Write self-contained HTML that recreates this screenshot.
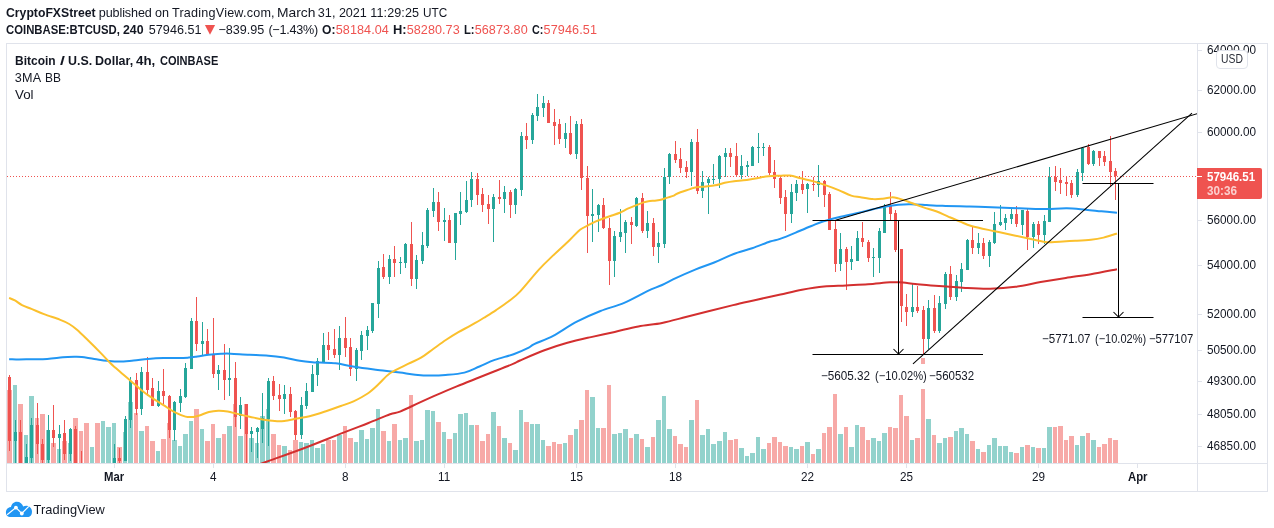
<!DOCTYPE html>
<html><head><meta charset="utf-8"><title>BTCUSD chart</title>
<style>
html,body{margin:0;padding:0;background:#fff;}
body{width:1274px;height:528px;position:relative;overflow:hidden;font-family:"Liberation Sans",sans-serif;color:#131722;}
.t{position:absolute;white-space:pre;line-height:1;font-family:"Liberation Sans",sans-serif;}
</style></head><body>
<svg width="1274" height="528" viewBox="0 0 1274 528" style="position:absolute;left:0;top:0">
<defs><clipPath id="pane"><rect x="7" y="44" width="1190" height="419"/></clipPath></defs>
<g shape-rendering="crispEdges" fill="#e0e3eb">
<rect x="6" y="43" width="1262" height="1"/>
<rect x="6" y="491" width="1262" height="1"/>
<rect x="6" y="43" width="1" height="449"/>
<rect x="1267" y="43" width="1" height="449"/>
<rect x="1197" y="44" width="1" height="447"/>
<rect x="7" y="463" width="1260" height="1"/>
</g>
<g clip-path="url(#pane)">
<g shape-rendering="crispEdges">
<rect x="7" y="390" width="5" height="73" fill="#f7a9a7"/>
<rect x="13" y="385" width="4" height="78" fill="#92d2cc"/>
<rect x="18" y="404" width="5" height="59" fill="#f7a9a7"/>
<rect x="24" y="435" width="4" height="28" fill="#92d2cc"/>
<rect x="29" y="396" width="5" height="67" fill="#92d2cc"/>
<rect x="35" y="418" width="4" height="45" fill="#f7a9a7"/>
<rect x="40" y="414" width="5" height="49" fill="#f7a9a7"/>
<rect x="46" y="430" width="4" height="33" fill="#92d2cc"/>
<rect x="51" y="443" width="5" height="20" fill="#f7a9a7"/>
<rect x="57" y="449" width="4" height="14" fill="#92d2cc"/>
<rect x="62" y="441" width="5" height="22" fill="#f7a9a7"/>
<rect x="68" y="443" width="4" height="20" fill="#92d2cc"/>
<rect x="73" y="418" width="5" height="45" fill="#f7a9a7"/>
<rect x="79" y="431" width="4" height="32" fill="#f7a9a7"/>
<rect x="84" y="423" width="5" height="40" fill="#f7a9a7"/>
<rect x="90" y="447" width="4" height="16" fill="#92d2cc"/>
<rect x="95" y="423" width="5" height="40" fill="#f7a9a7"/>
<rect x="101" y="421" width="4" height="42" fill="#92d2cc"/>
<rect x="106" y="427" width="5" height="36" fill="#92d2cc"/>
<rect x="112" y="423" width="4" height="40" fill="#92d2cc"/>
<rect x="117" y="447" width="5" height="16" fill="#f7a9a7"/>
<rect x="123" y="432" width="4" height="31" fill="#92d2cc"/>
<rect x="128" y="402" width="5" height="61" fill="#92d2cc"/>
<rect x="134" y="413" width="4" height="50" fill="#f7a9a7"/>
<rect x="139" y="431" width="5" height="32" fill="#92d2cc"/>
<rect x="145" y="426" width="4" height="37" fill="#f7a9a7"/>
<rect x="150" y="441" width="5" height="22" fill="#f7a9a7"/>
<rect x="156" y="451" width="4" height="12" fill="#92d2cc"/>
<rect x="161" y="439" width="5" height="24" fill="#f7a9a7"/>
<rect x="167" y="423" width="4" height="40" fill="#f7a9a7"/>
<rect x="172" y="440" width="5" height="23" fill="#92d2cc"/>
<rect x="178" y="446" width="4" height="17" fill="#92d2cc"/>
<rect x="183" y="434" width="5" height="29" fill="#92d2cc"/>
<rect x="189" y="421" width="4" height="42" fill="#92d2cc"/>
<rect x="194" y="409" width="5" height="54" fill="#f7a9a7"/>
<rect x="200" y="429" width="4" height="34" fill="#92d2cc"/>
<rect x="205" y="441" width="5" height="22" fill="#f7a9a7"/>
<rect x="211" y="424" width="4" height="39" fill="#f7a9a7"/>
<rect x="216" y="438" width="5" height="25" fill="#92d2cc"/>
<rect x="222" y="434" width="4" height="29" fill="#f7a9a7"/>
<rect x="227" y="426" width="5" height="37" fill="#92d2cc"/>
<rect x="233" y="404" width="4" height="59" fill="#f7a9a7"/>
<rect x="238" y="436" width="5" height="27" fill="#92d2cc"/>
<rect x="244" y="404" width="4" height="59" fill="#f7a9a7"/>
<rect x="249" y="438" width="5" height="25" fill="#92d2cc"/>
<rect x="255" y="443" width="4" height="20" fill="#92d2cc"/>
<rect x="260" y="416" width="5" height="47" fill="#92d2cc"/>
<rect x="266" y="409" width="4" height="54" fill="#92d2cc"/>
<rect x="271" y="434" width="5" height="29" fill="#f7a9a7"/>
<rect x="277" y="445" width="4" height="18" fill="#f7a9a7"/>
<rect x="282" y="446" width="5" height="17" fill="#92d2cc"/>
<rect x="288" y="450" width="4" height="13" fill="#f7a9a7"/>
<rect x="293" y="440" width="5" height="23" fill="#f7a9a7"/>
<rect x="299" y="442" width="4" height="21" fill="#92d2cc"/>
<rect x="304" y="443" width="5" height="20" fill="#92d2cc"/>
<rect x="310" y="440" width="4" height="23" fill="#92d2cc"/>
<rect x="315" y="448" width="5" height="15" fill="#92d2cc"/>
<rect x="321" y="444" width="4" height="19" fill="#92d2cc"/>
<rect x="326" y="440" width="5" height="23" fill="#f7a9a7"/>
<rect x="332" y="440" width="4" height="23" fill="#f7a9a7"/>
<rect x="337" y="435" width="5" height="28" fill="#92d2cc"/>
<rect x="343" y="426" width="4" height="37" fill="#f7a9a7"/>
<rect x="348" y="438" width="5" height="25" fill="#f7a9a7"/>
<rect x="354" y="442" width="4" height="21" fill="#92d2cc"/>
<rect x="359" y="430" width="5" height="33" fill="#92d2cc"/>
<rect x="365" y="439" width="4" height="24" fill="#92d2cc"/>
<rect x="370" y="428" width="5" height="35" fill="#92d2cc"/>
<rect x="376" y="409" width="4" height="54" fill="#92d2cc"/>
<rect x="381" y="431" width="5" height="32" fill="#f7a9a7"/>
<rect x="387" y="441" width="4" height="22" fill="#92d2cc"/>
<rect x="392" y="424" width="5" height="39" fill="#f7a9a7"/>
<rect x="398" y="440" width="4" height="23" fill="#92d2cc"/>
<rect x="403" y="438" width="5" height="25" fill="#92d2cc"/>
<rect x="409" y="395" width="4" height="68" fill="#f7a9a7"/>
<rect x="414" y="441" width="5" height="22" fill="#92d2cc"/>
<rect x="420" y="440" width="4" height="23" fill="#92d2cc"/>
<rect x="425" y="410" width="5" height="53" fill="#92d2cc"/>
<rect x="431" y="411" width="4" height="52" fill="#92d2cc"/>
<rect x="436" y="422" width="5" height="41" fill="#f7a9a7"/>
<rect x="442" y="432" width="4" height="31" fill="#92d2cc"/>
<rect x="447" y="439" width="5" height="24" fill="#f7a9a7"/>
<rect x="453" y="433" width="4" height="30" fill="#92d2cc"/>
<rect x="458" y="414" width="5" height="49" fill="#92d2cc"/>
<rect x="464" y="413" width="4" height="50" fill="#92d2cc"/>
<rect x="469" y="425" width="5" height="38" fill="#92d2cc"/>
<rect x="475" y="425" width="4" height="38" fill="#f7a9a7"/>
<rect x="480" y="441" width="5" height="22" fill="#f7a9a7"/>
<rect x="486" y="434" width="4" height="29" fill="#f7a9a7"/>
<rect x="491" y="412" width="5" height="51" fill="#92d2cc"/>
<rect x="497" y="426" width="4" height="37" fill="#f7a9a7"/>
<rect x="502" y="438" width="5" height="25" fill="#92d2cc"/>
<rect x="508" y="443" width="4" height="20" fill="#f7a9a7"/>
<rect x="513" y="450" width="5" height="13" fill="#92d2cc"/>
<rect x="519" y="410" width="4" height="53" fill="#92d2cc"/>
<rect x="524" y="422" width="5" height="41" fill="#f7a9a7"/>
<rect x="530" y="424" width="4" height="39" fill="#92d2cc"/>
<rect x="535" y="424" width="5" height="39" fill="#92d2cc"/>
<rect x="541" y="440" width="4" height="23" fill="#92d2cc"/>
<rect x="546" y="446" width="5" height="17" fill="#f7a9a7"/>
<rect x="552" y="442" width="4" height="21" fill="#f7a9a7"/>
<rect x="557" y="444" width="5" height="19" fill="#f7a9a7"/>
<rect x="563" y="443" width="4" height="20" fill="#92d2cc"/>
<rect x="568" y="435" width="5" height="28" fill="#f7a9a7"/>
<rect x="574" y="429" width="4" height="34" fill="#92d2cc"/>
<rect x="579" y="420" width="5" height="43" fill="#f7a9a7"/>
<rect x="585" y="390" width="4" height="73" fill="#f7a9a7"/>
<rect x="590" y="397" width="5" height="66" fill="#92d2cc"/>
<rect x="596" y="428" width="4" height="35" fill="#92d2cc"/>
<rect x="601" y="428" width="5" height="35" fill="#f7a9a7"/>
<rect x="607" y="385" width="4" height="78" fill="#f7a9a7"/>
<rect x="612" y="434" width="5" height="29" fill="#92d2cc"/>
<rect x="618" y="433" width="4" height="30" fill="#92d2cc"/>
<rect x="623" y="429" width="5" height="34" fill="#92d2cc"/>
<rect x="629" y="438" width="4" height="25" fill="#f7a9a7"/>
<rect x="634" y="434" width="5" height="29" fill="#92d2cc"/>
<rect x="640" y="439" width="4" height="24" fill="#f7a9a7"/>
<rect x="645" y="447" width="5" height="16" fill="#92d2cc"/>
<rect x="651" y="437" width="4" height="26" fill="#f7a9a7"/>
<rect x="656" y="420" width="5" height="43" fill="#92d2cc"/>
<rect x="662" y="396" width="4" height="67" fill="#92d2cc"/>
<rect x="667" y="429" width="5" height="34" fill="#92d2cc"/>
<rect x="673" y="436" width="4" height="27" fill="#f7a9a7"/>
<rect x="678" y="444" width="5" height="19" fill="#f7a9a7"/>
<rect x="684" y="447" width="4" height="16" fill="#f7a9a7"/>
<rect x="689" y="420" width="5" height="43" fill="#92d2cc"/>
<rect x="695" y="400" width="4" height="63" fill="#f7a9a7"/>
<rect x="700" y="435" width="5" height="28" fill="#92d2cc"/>
<rect x="706" y="429" width="4" height="34" fill="#92d2cc"/>
<rect x="711" y="444" width="5" height="19" fill="#92d2cc"/>
<rect x="717" y="441" width="5" height="22" fill="#92d2cc"/>
<rect x="723" y="432" width="4" height="31" fill="#92d2cc"/>
<rect x="728" y="440" width="5" height="23" fill="#f7a9a7"/>
<rect x="734" y="439" width="4" height="24" fill="#f7a9a7"/>
<rect x="739" y="448" width="5" height="15" fill="#92d2cc"/>
<rect x="745" y="456" width="4" height="7" fill="#92d2cc"/>
<rect x="750" y="453" width="5" height="10" fill="#92d2cc"/>
<rect x="756" y="437" width="4" height="26" fill="#92d2cc"/>
<rect x="761" y="449" width="5" height="14" fill="#92d2cc"/>
<rect x="767" y="443" width="4" height="20" fill="#f7a9a7"/>
<rect x="772" y="437" width="5" height="26" fill="#f7a9a7"/>
<rect x="778" y="442" width="4" height="21" fill="#f7a9a7"/>
<rect x="783" y="446" width="5" height="17" fill="#f7a9a7"/>
<rect x="789" y="447" width="4" height="16" fill="#92d2cc"/>
<rect x="794" y="449" width="5" height="14" fill="#92d2cc"/>
<rect x="800" y="446" width="4" height="17" fill="#f7a9a7"/>
<rect x="805" y="442" width="5" height="21" fill="#92d2cc"/>
<rect x="811" y="454" width="4" height="9" fill="#f7a9a7"/>
<rect x="816" y="449" width="5" height="14" fill="#92d2cc"/>
<rect x="822" y="433" width="4" height="30" fill="#f7a9a7"/>
<rect x="827" y="427" width="5" height="36" fill="#f7a9a7"/>
<rect x="833" y="394" width="4" height="69" fill="#f7a9a7"/>
<rect x="838" y="434" width="5" height="29" fill="#92d2cc"/>
<rect x="844" y="427" width="4" height="36" fill="#f7a9a7"/>
<rect x="849" y="447" width="5" height="16" fill="#92d2cc"/>
<rect x="855" y="425" width="4" height="38" fill="#92d2cc"/>
<rect x="860" y="427" width="5" height="36" fill="#f7a9a7"/>
<rect x="866" y="440" width="4" height="23" fill="#f7a9a7"/>
<rect x="871" y="438" width="5" height="25" fill="#92d2cc"/>
<rect x="877" y="441" width="4" height="22" fill="#92d2cc"/>
<rect x="882" y="433" width="5" height="30" fill="#92d2cc"/>
<rect x="888" y="427" width="4" height="36" fill="#f7a9a7"/>
<rect x="893" y="428" width="5" height="35" fill="#f7a9a7"/>
<rect x="899" y="395" width="4" height="68" fill="#f7a9a7"/>
<rect x="904" y="416" width="5" height="47" fill="#f7a9a7"/>
<rect x="910" y="440" width="4" height="23" fill="#92d2cc"/>
<rect x="915" y="438" width="5" height="25" fill="#f7a9a7"/>
<rect x="921" y="358" width="4" height="105" fill="#f7a9a7"/>
<rect x="926" y="419" width="5" height="44" fill="#92d2cc"/>
<rect x="932" y="435" width="4" height="28" fill="#f7a9a7"/>
<rect x="937" y="443" width="5" height="20" fill="#92d2cc"/>
<rect x="943" y="438" width="4" height="25" fill="#92d2cc"/>
<rect x="948" y="437" width="5" height="26" fill="#f7a9a7"/>
<rect x="954" y="431" width="4" height="32" fill="#92d2cc"/>
<rect x="959" y="428" width="5" height="35" fill="#92d2cc"/>
<rect x="965" y="434" width="4" height="29" fill="#92d2cc"/>
<rect x="970" y="441" width="5" height="22" fill="#f7a9a7"/>
<rect x="976" y="449" width="4" height="14" fill="#92d2cc"/>
<rect x="981" y="452" width="5" height="11" fill="#f7a9a7"/>
<rect x="987" y="445" width="4" height="18" fill="#92d2cc"/>
<rect x="992" y="438" width="5" height="25" fill="#92d2cc"/>
<rect x="998" y="446" width="4" height="17" fill="#92d2cc"/>
<rect x="1003" y="446" width="5" height="17" fill="#92d2cc"/>
<rect x="1009" y="452" width="4" height="11" fill="#92d2cc"/>
<rect x="1014" y="453" width="5" height="10" fill="#f7a9a7"/>
<rect x="1020" y="447" width="4" height="16" fill="#92d2cc"/>
<rect x="1025" y="445" width="5" height="18" fill="#f7a9a7"/>
<rect x="1031" y="447" width="4" height="16" fill="#92d2cc"/>
<rect x="1036" y="448" width="5" height="15" fill="#f7a9a7"/>
<rect x="1042" y="448" width="4" height="15" fill="#92d2cc"/>
<rect x="1047" y="427" width="5" height="36" fill="#92d2cc"/>
<rect x="1053" y="427" width="4" height="36" fill="#f7a9a7"/>
<rect x="1058" y="426" width="5" height="37" fill="#f7a9a7"/>
<rect x="1064" y="440" width="4" height="23" fill="#f7a9a7"/>
<rect x="1069" y="436" width="5" height="27" fill="#f7a9a7"/>
<rect x="1075" y="445" width="4" height="18" fill="#92d2cc"/>
<rect x="1080" y="436" width="5" height="27" fill="#92d2cc"/>
<rect x="1086" y="433" width="4" height="30" fill="#f7a9a7"/>
<rect x="1091" y="440" width="5" height="23" fill="#92d2cc"/>
<rect x="1097" y="447" width="4" height="16" fill="#f7a9a7"/>
<rect x="1102" y="444" width="5" height="19" fill="#f7a9a7"/>
<rect x="1108" y="438" width="4" height="25" fill="#f7a9a7"/>
<rect x="1113" y="440" width="5" height="23" fill="#f7a9a7"/>
</g>
<line x1="7" y1="176.5" x2="1198" y2="176.5" stroke="#ef5350" stroke-width="1" stroke-dasharray="1 2" shape-rendering="crispEdges"/>
<g shape-rendering="crispEdges">
<rect x="9" y="375" width="1" height="76" fill="#ef5350"/>
<rect x="8" y="377" width="3" height="64" fill="#ef5350"/>
<rect x="15" y="420" width="1" height="50" fill="#26a69a"/>
<rect x="14" y="432" width="3" height="9" fill="#26a69a"/>
<rect x="20" y="420" width="1" height="50" fill="#ef5350"/>
<rect x="19" y="432" width="3" height="38" fill="#ef5350"/>
<rect x="26" y="444" width="1" height="26" fill="#26a69a"/>
<rect x="25" y="457" width="3" height="13" fill="#26a69a"/>
<rect x="31" y="418" width="1" height="52" fill="#26a69a"/>
<rect x="30" y="425" width="3" height="33" fill="#26a69a"/>
<rect x="37" y="403" width="1" height="51" fill="#ef5350"/>
<rect x="36" y="425" width="3" height="19" fill="#ef5350"/>
<rect x="42" y="439" width="1" height="31" fill="#ef5350"/>
<rect x="41" y="444" width="3" height="16" fill="#ef5350"/>
<rect x="48" y="415" width="1" height="55" fill="#26a69a"/>
<rect x="47" y="430" width="3" height="30" fill="#26a69a"/>
<rect x="53" y="405" width="1" height="42" fill="#ef5350"/>
<rect x="52" y="430" width="3" height="8" fill="#ef5350"/>
<rect x="59" y="425" width="1" height="45" fill="#26a69a"/>
<rect x="58" y="434" width="3" height="4" fill="#26a69a"/>
<rect x="64" y="420" width="1" height="40" fill="#ef5350"/>
<rect x="63" y="433" width="3" height="21" fill="#ef5350"/>
<rect x="70" y="428" width="1" height="33" fill="#26a69a"/>
<rect x="69" y="429" width="3" height="25" fill="#26a69a"/>
<rect x="75" y="426" width="1" height="44" fill="#ef5350"/>
<rect x="74" y="429" width="3" height="41" fill="#ef5350"/>
<rect x="81" y="451" width="1" height="19" fill="#ef5350"/>
<rect x="114" y="444" width="1" height="26" fill="#26a69a"/>
<rect x="113" y="458" width="3" height="12" fill="#26a69a"/>
<rect x="119" y="448" width="1" height="22" fill="#ef5350"/>
<rect x="118" y="458" width="3" height="3" fill="#ef5350"/>
<rect x="125" y="416" width="1" height="45" fill="#26a69a"/>
<rect x="124" y="419" width="3" height="42" fill="#26a69a"/>
<rect x="130" y="377" width="1" height="51" fill="#26a69a"/>
<rect x="129" y="381" width="3" height="39" fill="#26a69a"/>
<rect x="136" y="373" width="1" height="42" fill="#ef5350"/>
<rect x="135" y="380" width="3" height="29" fill="#ef5350"/>
<rect x="141" y="367" width="1" height="48" fill="#26a69a"/>
<rect x="140" y="372" width="3" height="37" fill="#26a69a"/>
<rect x="147" y="357" width="1" height="39" fill="#ef5350"/>
<rect x="146" y="372" width="3" height="18" fill="#ef5350"/>
<rect x="152" y="378" width="1" height="28" fill="#ef5350"/>
<rect x="151" y="388" width="3" height="18" fill="#ef5350"/>
<rect x="158" y="381" width="1" height="26" fill="#26a69a"/>
<rect x="157" y="391" width="3" height="15" fill="#26a69a"/>
<rect x="163" y="369" width="1" height="35" fill="#ef5350"/>
<rect x="162" y="391" width="3" height="5" fill="#ef5350"/>
<rect x="169" y="395" width="1" height="43" fill="#ef5350"/>
<rect x="168" y="396" width="3" height="34" fill="#ef5350"/>
<rect x="174" y="401" width="1" height="40" fill="#26a69a"/>
<rect x="173" y="402" width="3" height="28" fill="#26a69a"/>
<rect x="180" y="389" width="1" height="23" fill="#26a69a"/>
<rect x="179" y="396" width="3" height="7" fill="#26a69a"/>
<rect x="185" y="363" width="1" height="35" fill="#26a69a"/>
<rect x="184" y="368" width="3" height="29" fill="#26a69a"/>
<rect x="191" y="318" width="1" height="51" fill="#26a69a"/>
<rect x="190" y="321" width="3" height="48" fill="#26a69a"/>
<rect x="196" y="297" width="1" height="54" fill="#ef5350"/>
<rect x="195" y="321" width="3" height="23" fill="#ef5350"/>
<rect x="202" y="322" width="1" height="33" fill="#26a69a"/>
<rect x="201" y="341" width="3" height="3" fill="#26a69a"/>
<rect x="207" y="329" width="1" height="25" fill="#ef5350"/>
<rect x="206" y="341" width="3" height="13" fill="#ef5350"/>
<rect x="213" y="318" width="1" height="60" fill="#ef5350"/>
<rect x="212" y="355" width="3" height="19" fill="#ef5350"/>
<rect x="218" y="365" width="1" height="25" fill="#26a69a"/>
<rect x="217" y="370" width="3" height="4" fill="#26a69a"/>
<rect x="224" y="344" width="1" height="56" fill="#ef5350"/>
<rect x="223" y="370" width="3" height="10" fill="#ef5350"/>
<rect x="229" y="348" width="1" height="48" fill="#26a69a"/>
<rect x="228" y="378" width="3" height="2" fill="#26a69a"/>
<rect x="235" y="362" width="1" height="65" fill="#ef5350"/>
<rect x="234" y="378" width="3" height="39" fill="#ef5350"/>
<rect x="240" y="397" width="1" height="32" fill="#26a69a"/>
<rect x="239" y="405" width="3" height="11" fill="#26a69a"/>
<rect x="246" y="404" width="1" height="66" fill="#ef5350"/>
<rect x="245" y="404" width="3" height="30" fill="#ef5350"/>
<rect x="251" y="427" width="1" height="25" fill="#26a69a"/>
<rect x="250" y="431" width="3" height="3" fill="#26a69a"/>
<rect x="257" y="427" width="1" height="31" fill="#26a69a"/>
<rect x="256" y="428" width="3" height="4" fill="#26a69a"/>
<rect x="262" y="393" width="1" height="50" fill="#26a69a"/>
<rect x="261" y="418" width="3" height="11" fill="#26a69a"/>
<rect x="268" y="378" width="1" height="68" fill="#26a69a"/>
<rect x="267" y="381" width="3" height="38" fill="#26a69a"/>
<rect x="273" y="376" width="1" height="24" fill="#ef5350"/>
<rect x="272" y="381" width="3" height="15" fill="#ef5350"/>
<rect x="279" y="384" width="1" height="27" fill="#ef5350"/>
<rect x="278" y="395" width="3" height="4" fill="#ef5350"/>
<rect x="284" y="385" width="1" height="29" fill="#26a69a"/>
<rect x="283" y="394" width="3" height="5" fill="#26a69a"/>
<rect x="290" y="387" width="1" height="30" fill="#ef5350"/>
<rect x="289" y="394" width="3" height="18" fill="#ef5350"/>
<rect x="295" y="410" width="1" height="30" fill="#ef5350"/>
<rect x="294" y="411" width="3" height="24" fill="#ef5350"/>
<rect x="301" y="397" width="1" height="42" fill="#26a69a"/>
<rect x="300" y="405" width="3" height="30" fill="#26a69a"/>
<rect x="306" y="383" width="1" height="26" fill="#26a69a"/>
<rect x="305" y="391" width="3" height="15" fill="#26a69a"/>
<rect x="312" y="365" width="1" height="27" fill="#26a69a"/>
<rect x="311" y="374" width="3" height="18" fill="#26a69a"/>
<rect x="317" y="358" width="1" height="28" fill="#26a69a"/>
<rect x="316" y="361" width="3" height="14" fill="#26a69a"/>
<rect x="323" y="333" width="1" height="29" fill="#26a69a"/>
<rect x="322" y="345" width="3" height="17" fill="#26a69a"/>
<rect x="328" y="332" width="1" height="28" fill="#ef5350"/>
<rect x="327" y="345" width="3" height="5" fill="#ef5350"/>
<rect x="334" y="329" width="1" height="29" fill="#ef5350"/>
<rect x="333" y="349" width="3" height="6" fill="#ef5350"/>
<rect x="339" y="326" width="1" height="44" fill="#26a69a"/>
<rect x="338" y="338" width="3" height="17" fill="#26a69a"/>
<rect x="345" y="317" width="1" height="40" fill="#ef5350"/>
<rect x="344" y="338" width="3" height="10" fill="#ef5350"/>
<rect x="350" y="338" width="1" height="38" fill="#ef5350"/>
<rect x="349" y="347" width="3" height="22" fill="#ef5350"/>
<rect x="356" y="348" width="1" height="33" fill="#26a69a"/>
<rect x="355" y="350" width="3" height="19" fill="#26a69a"/>
<rect x="361" y="331" width="1" height="29" fill="#26a69a"/>
<rect x="360" y="335" width="3" height="16" fill="#26a69a"/>
<rect x="367" y="326" width="1" height="24" fill="#26a69a"/>
<rect x="366" y="330" width="3" height="6" fill="#26a69a"/>
<rect x="372" y="303" width="1" height="30" fill="#26a69a"/>
<rect x="371" y="303" width="3" height="28" fill="#26a69a"/>
<rect x="378" y="261" width="1" height="57" fill="#26a69a"/>
<rect x="377" y="268" width="3" height="36" fill="#26a69a"/>
<rect x="383" y="254" width="1" height="25" fill="#ef5350"/>
<rect x="382" y="267" width="3" height="10" fill="#ef5350"/>
<rect x="389" y="255" width="1" height="29" fill="#26a69a"/>
<rect x="388" y="259" width="3" height="18" fill="#26a69a"/>
<rect x="394" y="246" width="1" height="31" fill="#ef5350"/>
<rect x="393" y="259" width="3" height="4" fill="#ef5350"/>
<rect x="400" y="257" width="1" height="17" fill="#26a69a"/>
<rect x="399" y="262" width="3" height="1" fill="#26a69a"/>
<rect x="405" y="243" width="1" height="25" fill="#26a69a"/>
<rect x="404" y="244" width="3" height="19" fill="#26a69a"/>
<rect x="411" y="222" width="1" height="64" fill="#ef5350"/>
<rect x="410" y="244" width="3" height="35" fill="#ef5350"/>
<rect x="416" y="255" width="1" height="34" fill="#26a69a"/>
<rect x="415" y="260" width="3" height="19" fill="#26a69a"/>
<rect x="422" y="232" width="1" height="32" fill="#26a69a"/>
<rect x="421" y="245" width="3" height="16" fill="#26a69a"/>
<rect x="427" y="208" width="1" height="40" fill="#26a69a"/>
<rect x="426" y="210" width="3" height="36" fill="#26a69a"/>
<rect x="433" y="188" width="1" height="29" fill="#26a69a"/>
<rect x="432" y="202" width="3" height="9" fill="#26a69a"/>
<rect x="438" y="192" width="1" height="39" fill="#ef5350"/>
<rect x="437" y="202" width="3" height="20" fill="#ef5350"/>
<rect x="444" y="208" width="1" height="33" fill="#26a69a"/>
<rect x="443" y="220" width="3" height="2" fill="#26a69a"/>
<rect x="449" y="215" width="1" height="28" fill="#ef5350"/>
<rect x="448" y="220" width="3" height="23" fill="#ef5350"/>
<rect x="455" y="213" width="1" height="47" fill="#26a69a"/>
<rect x="454" y="213" width="3" height="30" fill="#26a69a"/>
<rect x="460" y="192" width="1" height="33" fill="#26a69a"/>
<rect x="459" y="211" width="3" height="3" fill="#26a69a"/>
<rect x="466" y="181" width="1" height="32" fill="#26a69a"/>
<rect x="465" y="200" width="3" height="12" fill="#26a69a"/>
<rect x="471" y="172" width="1" height="35" fill="#26a69a"/>
<rect x="470" y="179" width="3" height="21" fill="#26a69a"/>
<rect x="477" y="173" width="1" height="32" fill="#ef5350"/>
<rect x="476" y="179" width="3" height="16" fill="#ef5350"/>
<rect x="482" y="188" width="1" height="24" fill="#ef5350"/>
<rect x="481" y="194" width="3" height="11" fill="#ef5350"/>
<rect x="488" y="195" width="1" height="29" fill="#ef5350"/>
<rect x="487" y="204" width="3" height="5" fill="#ef5350"/>
<rect x="493" y="194" width="1" height="48" fill="#26a69a"/>
<rect x="492" y="197" width="3" height="12" fill="#26a69a"/>
<rect x="499" y="180" width="1" height="24" fill="#ef5350"/>
<rect x="498" y="197" width="3" height="2" fill="#ef5350"/>
<rect x="504" y="186" width="1" height="27" fill="#26a69a"/>
<rect x="503" y="192" width="3" height="7" fill="#26a69a"/>
<rect x="510" y="190" width="1" height="28" fill="#ef5350"/>
<rect x="509" y="192" width="3" height="13" fill="#ef5350"/>
<rect x="515" y="188" width="1" height="26" fill="#26a69a"/>
<rect x="514" y="189" width="3" height="16" fill="#26a69a"/>
<rect x="521" y="132" width="1" height="64" fill="#26a69a"/>
<rect x="520" y="136" width="3" height="54" fill="#26a69a"/>
<rect x="526" y="123" width="1" height="26" fill="#ef5350"/>
<rect x="525" y="136" width="3" height="4" fill="#ef5350"/>
<rect x="532" y="113" width="1" height="31" fill="#26a69a"/>
<rect x="531" y="115" width="3" height="25" fill="#26a69a"/>
<rect x="537" y="94" width="1" height="27" fill="#26a69a"/>
<rect x="536" y="107" width="3" height="9" fill="#26a69a"/>
<rect x="543" y="96" width="1" height="21" fill="#26a69a"/>
<rect x="542" y="103" width="3" height="5" fill="#26a69a"/>
<rect x="548" y="100" width="1" height="23" fill="#ef5350"/>
<rect x="547" y="103" width="3" height="20" fill="#ef5350"/>
<rect x="554" y="109" width="1" height="36" fill="#ef5350"/>
<rect x="553" y="122" width="3" height="4" fill="#ef5350"/>
<rect x="559" y="119" width="1" height="25" fill="#ef5350"/>
<rect x="558" y="124" width="3" height="15" fill="#ef5350"/>
<rect x="565" y="123" width="1" height="25" fill="#26a69a"/>
<rect x="564" y="133" width="3" height="6" fill="#26a69a"/>
<rect x="570" y="116" width="1" height="39" fill="#ef5350"/>
<rect x="569" y="133" width="3" height="21" fill="#ef5350"/>
<rect x="576" y="121" width="1" height="38" fill="#26a69a"/>
<rect x="575" y="124" width="3" height="30" fill="#26a69a"/>
<rect x="581" y="119" width="1" height="71" fill="#ef5350"/>
<rect x="580" y="124" width="3" height="54" fill="#ef5350"/>
<rect x="587" y="166" width="1" height="87" fill="#ef5350"/>
<rect x="586" y="178" width="3" height="38" fill="#ef5350"/>
<rect x="592" y="189" width="1" height="53" fill="#26a69a"/>
<rect x="591" y="214" width="3" height="2" fill="#26a69a"/>
<rect x="598" y="204" width="1" height="28" fill="#26a69a"/>
<rect x="597" y="205" width="3" height="10" fill="#26a69a"/>
<rect x="603" y="198" width="1" height="31" fill="#ef5350"/>
<rect x="602" y="205" width="3" height="23" fill="#ef5350"/>
<rect x="609" y="218" width="1" height="67" fill="#ef5350"/>
<rect x="608" y="228" width="3" height="33" fill="#ef5350"/>
<rect x="614" y="231" width="1" height="46" fill="#26a69a"/>
<rect x="613" y="236" width="3" height="25" fill="#26a69a"/>
<rect x="620" y="209" width="1" height="33" fill="#26a69a"/>
<rect x="619" y="232" width="3" height="5" fill="#26a69a"/>
<rect x="625" y="220" width="1" height="33" fill="#26a69a"/>
<rect x="624" y="222" width="3" height="11" fill="#26a69a"/>
<rect x="631" y="217" width="1" height="27" fill="#ef5350"/>
<rect x="630" y="222" width="3" height="3" fill="#ef5350"/>
<rect x="636" y="197" width="1" height="30" fill="#26a69a"/>
<rect x="635" y="198" width="3" height="28" fill="#26a69a"/>
<rect x="642" y="193" width="1" height="40" fill="#ef5350"/>
<rect x="641" y="198" width="3" height="33" fill="#ef5350"/>
<rect x="647" y="211" width="1" height="27" fill="#26a69a"/>
<rect x="646" y="223" width="3" height="8" fill="#26a69a"/>
<rect x="653" y="218" width="1" height="38" fill="#ef5350"/>
<rect x="652" y="223" width="3" height="24" fill="#ef5350"/>
<rect x="658" y="232" width="1" height="31" fill="#26a69a"/>
<rect x="657" y="243" width="3" height="4" fill="#26a69a"/>
<rect x="664" y="168" width="1" height="80" fill="#26a69a"/>
<rect x="663" y="177" width="3" height="67" fill="#26a69a"/>
<rect x="669" y="153" width="1" height="31" fill="#26a69a"/>
<rect x="668" y="154" width="3" height="23" fill="#26a69a"/>
<rect x="675" y="141" width="1" height="22" fill="#ef5350"/>
<rect x="674" y="154" width="3" height="6" fill="#ef5350"/>
<rect x="680" y="148" width="1" height="25" fill="#ef5350"/>
<rect x="679" y="159" width="3" height="9" fill="#ef5350"/>
<rect x="686" y="161" width="1" height="17" fill="#ef5350"/>
<rect x="685" y="167" width="3" height="5" fill="#ef5350"/>
<rect x="691" y="139" width="1" height="47" fill="#26a69a"/>
<rect x="690" y="142" width="3" height="30" fill="#26a69a"/>
<rect x="697" y="129" width="1" height="65" fill="#ef5350"/>
<rect x="696" y="142" width="3" height="49" fill="#ef5350"/>
<rect x="702" y="171" width="1" height="27" fill="#26a69a"/>
<rect x="701" y="182" width="3" height="9" fill="#26a69a"/>
<rect x="708" y="177" width="1" height="37" fill="#26a69a"/>
<rect x="707" y="179" width="3" height="4" fill="#26a69a"/>
<rect x="713" y="164" width="1" height="20" fill="#26a69a"/>
<rect x="712" y="179" width="3" height="1" fill="#26a69a"/>
<rect x="719" y="155" width="1" height="33" fill="#26a69a"/>
<rect x="718" y="156" width="3" height="23" fill="#26a69a"/>
<rect x="725" y="148" width="1" height="29" fill="#26a69a"/>
<rect x="724" y="153" width="3" height="4" fill="#26a69a"/>
<rect x="730" y="148" width="1" height="19" fill="#ef5350"/>
<rect x="729" y="153" width="3" height="4" fill="#ef5350"/>
<rect x="736" y="143" width="1" height="34" fill="#ef5350"/>
<rect x="735" y="156" width="3" height="19" fill="#ef5350"/>
<rect x="741" y="155" width="1" height="24" fill="#26a69a"/>
<rect x="740" y="166" width="3" height="9" fill="#26a69a"/>
<rect x="747" y="161" width="1" height="15" fill="#26a69a"/>
<rect x="746" y="165" width="3" height="2" fill="#26a69a"/>
<rect x="752" y="146" width="1" height="20" fill="#26a69a"/>
<rect x="751" y="147" width="3" height="19" fill="#26a69a"/>
<rect x="758" y="133" width="1" height="30" fill="#26a69a"/>
<rect x="757" y="147" width="3" height="1" fill="#26a69a"/>
<rect x="763" y="143" width="1" height="13" fill="#26a69a"/>
<rect x="762" y="147" width="3" height="1" fill="#26a69a"/>
<rect x="769" y="145" width="1" height="30" fill="#ef5350"/>
<rect x="768" y="147" width="3" height="26" fill="#ef5350"/>
<rect x="774" y="160" width="1" height="28" fill="#ef5350"/>
<rect x="773" y="172" width="3" height="7" fill="#ef5350"/>
<rect x="780" y="176" width="1" height="28" fill="#ef5350"/>
<rect x="779" y="178" width="3" height="20" fill="#ef5350"/>
<rect x="785" y="190" width="1" height="41" fill="#ef5350"/>
<rect x="784" y="197" width="3" height="17" fill="#ef5350"/>
<rect x="791" y="184" width="1" height="39" fill="#26a69a"/>
<rect x="790" y="192" width="3" height="22" fill="#26a69a"/>
<rect x="796" y="180" width="1" height="21" fill="#26a69a"/>
<rect x="795" y="184" width="3" height="9" fill="#26a69a"/>
<rect x="802" y="171" width="1" height="23" fill="#ef5350"/>
<rect x="801" y="184" width="3" height="6" fill="#ef5350"/>
<rect x="807" y="183" width="1" height="30" fill="#26a69a"/>
<rect x="806" y="184" width="3" height="5" fill="#26a69a"/>
<rect x="813" y="177" width="1" height="14" fill="#ef5350"/>
<rect x="812" y="184" width="3" height="1" fill="#ef5350"/>
<rect x="818" y="165" width="1" height="32" fill="#26a69a"/>
<rect x="817" y="181" width="3" height="4" fill="#26a69a"/>
<rect x="824" y="180" width="1" height="27" fill="#ef5350"/>
<rect x="823" y="181" width="3" height="14" fill="#ef5350"/>
<rect x="829" y="192" width="1" height="38" fill="#ef5350"/>
<rect x="828" y="194" width="3" height="36" fill="#ef5350"/>
<rect x="835" y="221" width="1" height="51" fill="#ef5350"/>
<rect x="834" y="229" width="3" height="35" fill="#ef5350"/>
<rect x="840" y="233" width="1" height="38" fill="#26a69a"/>
<rect x="839" y="249" width="3" height="15" fill="#26a69a"/>
<rect x="846" y="247" width="1" height="43" fill="#ef5350"/>
<rect x="845" y="249" width="3" height="13" fill="#ef5350"/>
<rect x="851" y="246" width="1" height="24" fill="#26a69a"/>
<rect x="850" y="259" width="3" height="3" fill="#26a69a"/>
<rect x="857" y="231" width="1" height="30" fill="#26a69a"/>
<rect x="856" y="238" width="3" height="23" fill="#26a69a"/>
<rect x="862" y="222" width="1" height="25" fill="#ef5350"/>
<rect x="861" y="238" width="3" height="4" fill="#ef5350"/>
<rect x="868" y="240" width="1" height="22" fill="#ef5350"/>
<rect x="867" y="242" width="3" height="16" fill="#ef5350"/>
<rect x="873" y="248" width="1" height="29" fill="#26a69a"/>
<rect x="872" y="257" width="3" height="1" fill="#26a69a"/>
<rect x="879" y="228" width="1" height="45" fill="#26a69a"/>
<rect x="878" y="231" width="3" height="27" fill="#26a69a"/>
<rect x="884" y="204" width="1" height="29" fill="#26a69a"/>
<rect x="883" y="206" width="3" height="27" fill="#26a69a"/>
<rect x="890" y="192" width="1" height="28" fill="#ef5350"/>
<rect x="889" y="206" width="3" height="8" fill="#ef5350"/>
<rect x="895" y="210" width="1" height="42" fill="#ef5350"/>
<rect x="894" y="213" width="3" height="37" fill="#ef5350"/>
<rect x="901" y="249" width="1" height="73" fill="#ef5350"/>
<rect x="900" y="249" width="3" height="57" fill="#ef5350"/>
<rect x="906" y="294" width="1" height="32" fill="#ef5350"/>
<rect x="905" y="307" width="3" height="5" fill="#ef5350"/>
<rect x="912" y="284" width="1" height="33" fill="#26a69a"/>
<rect x="911" y="307" width="3" height="5" fill="#26a69a"/>
<rect x="917" y="286" width="1" height="27" fill="#ef5350"/>
<rect x="916" y="307" width="3" height="4" fill="#ef5350"/>
<rect x="923" y="306" width="1" height="48" fill="#ef5350"/>
<rect x="922" y="310" width="3" height="29" fill="#ef5350"/>
<rect x="928" y="300" width="1" height="49" fill="#26a69a"/>
<rect x="927" y="308" width="3" height="31" fill="#26a69a"/>
<rect x="934" y="295" width="1" height="38" fill="#ef5350"/>
<rect x="933" y="308" width="3" height="23" fill="#ef5350"/>
<rect x="939" y="296" width="1" height="37" fill="#26a69a"/>
<rect x="938" y="303" width="3" height="28" fill="#26a69a"/>
<rect x="945" y="272" width="1" height="37" fill="#26a69a"/>
<rect x="944" y="274" width="3" height="30" fill="#26a69a"/>
<rect x="950" y="266" width="1" height="34" fill="#ef5350"/>
<rect x="949" y="274" width="3" height="23" fill="#ef5350"/>
<rect x="956" y="275" width="1" height="26" fill="#26a69a"/>
<rect x="955" y="281" width="3" height="16" fill="#26a69a"/>
<rect x="961" y="263" width="1" height="29" fill="#26a69a"/>
<rect x="960" y="269" width="3" height="13" fill="#26a69a"/>
<rect x="967" y="239" width="1" height="31" fill="#26a69a"/>
<rect x="966" y="240" width="3" height="30" fill="#26a69a"/>
<rect x="972" y="227" width="1" height="27" fill="#ef5350"/>
<rect x="971" y="240" width="3" height="8" fill="#ef5350"/>
<rect x="978" y="233" width="1" height="21" fill="#26a69a"/>
<rect x="977" y="243" width="3" height="5" fill="#26a69a"/>
<rect x="983" y="238" width="1" height="21" fill="#ef5350"/>
<rect x="982" y="243" width="3" height="13" fill="#ef5350"/>
<rect x="989" y="240" width="1" height="27" fill="#26a69a"/>
<rect x="988" y="242" width="3" height="14" fill="#26a69a"/>
<rect x="994" y="212" width="1" height="32" fill="#26a69a"/>
<rect x="993" y="224" width="3" height="19" fill="#26a69a"/>
<rect x="1000" y="205" width="1" height="21" fill="#26a69a"/>
<rect x="999" y="222" width="3" height="3" fill="#26a69a"/>
<rect x="1005" y="214" width="1" height="16" fill="#26a69a"/>
<rect x="1004" y="218" width="3" height="5" fill="#26a69a"/>
<rect x="1011" y="208" width="1" height="16" fill="#26a69a"/>
<rect x="1010" y="214" width="3" height="5" fill="#26a69a"/>
<rect x="1016" y="206" width="1" height="21" fill="#ef5350"/>
<rect x="1015" y="214" width="3" height="10" fill="#ef5350"/>
<rect x="1022" y="210" width="1" height="25" fill="#26a69a"/>
<rect x="1021" y="210" width="3" height="15" fill="#26a69a"/>
<rect x="1027" y="209" width="1" height="41" fill="#ef5350"/>
<rect x="1026" y="211" width="3" height="26" fill="#ef5350"/>
<rect x="1033" y="222" width="1" height="26" fill="#26a69a"/>
<rect x="1032" y="224" width="3" height="13" fill="#26a69a"/>
<rect x="1038" y="221" width="1" height="23" fill="#ef5350"/>
<rect x="1037" y="224" width="3" height="11" fill="#ef5350"/>
<rect x="1044" y="215" width="1" height="29" fill="#26a69a"/>
<rect x="1043" y="221" width="3" height="14" fill="#26a69a"/>
<rect x="1049" y="167" width="1" height="55" fill="#26a69a"/>
<rect x="1048" y="177" width="3" height="45" fill="#26a69a"/>
<rect x="1055" y="166" width="1" height="25" fill="#ef5350"/>
<rect x="1054" y="177" width="3" height="5" fill="#ef5350"/>
<rect x="1060" y="168" width="1" height="26" fill="#ef5350"/>
<rect x="1059" y="180" width="3" height="3" fill="#ef5350"/>
<rect x="1066" y="176" width="1" height="20" fill="#ef5350"/>
<rect x="1065" y="182" width="3" height="2" fill="#ef5350"/>
<rect x="1071" y="180" width="1" height="18" fill="#ef5350"/>
<rect x="1070" y="183" width="3" height="12" fill="#ef5350"/>
<rect x="1077" y="169" width="1" height="28" fill="#26a69a"/>
<rect x="1076" y="172" width="3" height="23" fill="#26a69a"/>
<rect x="1082" y="147" width="1" height="34" fill="#26a69a"/>
<rect x="1081" y="148" width="3" height="25" fill="#26a69a"/>
<rect x="1088" y="144" width="1" height="21" fill="#ef5350"/>
<rect x="1087" y="147" width="3" height="17" fill="#ef5350"/>
<rect x="1093" y="150" width="1" height="16" fill="#26a69a"/>
<rect x="1092" y="151" width="3" height="13" fill="#26a69a"/>
<rect x="1099" y="151" width="1" height="15" fill="#ef5350"/>
<rect x="1098" y="151" width="3" height="7" fill="#ef5350"/>
<rect x="1104" y="151" width="1" height="15" fill="#ef5350"/>
<rect x="1103" y="156" width="3" height="6" fill="#ef5350"/>
<rect x="1110" y="136" width="1" height="50" fill="#ef5350"/>
<rect x="1109" y="161" width="3" height="11" fill="#ef5350"/>
<rect x="1115" y="168" width="1" height="32" fill="#ef5350"/>
<rect x="1114" y="171" width="3" height="5" fill="#ef5350"/>
</g>
<path d="M9.1,359.2 C10.7,359.2 15.2,359.5 18.9,359.5 C22.6,359.5 26.7,359.3 31.4,359.2 C36.1,359.1 42.0,359.2 47.2,358.9 C52.5,358.6 58.2,357.7 62.9,357.3 C67.6,356.9 72.3,356.8 75.5,356.7 C78.7,356.6 78.7,356.6 81.8,357.0 C84.9,357.4 90.1,358.3 94.3,358.9 C98.5,359.5 102.7,360.4 106.9,360.8 C111.1,361.2 115.0,361.7 119.5,361.6 C124.0,361.6 128.9,360.9 133.6,360.5 C138.3,360.1 142.8,359.3 147.8,358.9 C152.8,358.5 158.3,358.2 163.5,358.1 C168.7,358.0 175.0,358.2 179.2,358.1 C183.4,358.0 185.9,357.8 188.7,357.6 C191.5,357.4 192.7,357.2 196.0,356.7 C199.3,356.2 204.4,355.3 208.6,354.8 C212.8,354.3 217.5,354.0 221.2,353.8 C224.9,353.6 225.9,353.5 230.6,353.7 C235.3,353.9 243.2,354.5 249.5,354.8 C255.8,355.1 262.6,355.2 268.4,355.7 C274.1,356.2 278.8,356.8 284.0,357.6 C289.2,358.5 295.1,360.0 299.8,360.8 C304.5,361.6 309.0,362.0 312.4,362.3 C315.8,362.6 316.1,362.4 320.0,362.6 C323.9,362.8 330.5,362.7 335.7,363.3 C340.9,363.9 346.1,365.4 351.4,366.3 C356.6,367.2 361.9,367.9 367.2,368.6 C372.4,369.3 377.4,369.8 382.9,370.5 C388.4,371.2 394.6,371.9 400.0,372.6 C405.4,373.3 410.1,374.2 415.2,374.7 C420.2,375.2 425.2,375.6 430.3,375.6 C435.4,375.7 439.8,375.5 445.5,375.0 C451.2,374.5 458.7,374.0 464.4,372.6 C470.1,371.2 474.4,368.6 479.5,366.5 C484.6,364.4 489.0,361.9 494.7,359.9 C500.4,357.8 507.9,356.2 513.6,354.2 C519.3,352.1 525.4,349.3 528.8,347.6 C532.2,345.9 530.1,346.1 534.2,344.2 C538.3,342.2 546.1,339.6 553.2,335.9 C560.3,332.1 568.9,325.8 576.8,321.7 C584.7,317.6 592.6,314.1 600.5,311.0 C608.4,307.9 616.3,306.2 624.2,302.8 C632.1,299.4 641.6,293.9 647.9,290.9 C654.2,287.9 657.4,287.2 662.1,285.0 C666.8,282.8 670.8,280.5 676.3,277.9 C681.8,275.3 688.9,272.2 695.2,269.6 C701.5,267.0 707.9,265.1 714.2,262.5 C720.5,259.9 726.8,256.6 733.1,254.2 C739.4,251.8 746.0,250.4 752.1,248.3 C758.2,246.2 765.4,243.1 770.0,241.5 C774.6,239.9 775.7,240.4 780.0,238.9 C784.3,237.4 790.5,234.8 795.7,232.6 C800.9,230.4 806.9,227.8 811.4,226.0 C815.9,224.2 818.4,222.9 822.9,221.5 C827.4,220.1 833.4,218.6 838.6,217.3 C843.8,216.0 849.0,214.9 854.3,213.7 C859.5,212.5 864.9,211.2 870.1,210.0 C875.4,208.8 881.1,207.5 885.8,206.6 C890.5,205.7 894.2,205.1 898.4,204.7 C902.6,204.3 906.2,204.1 910.9,204.2 C915.6,204.2 921.5,204.7 926.7,205.0 C932.0,205.3 936.9,205.6 942.4,205.8 C947.9,206.0 952.9,206.1 960.0,206.3 C967.1,206.5 976.8,206.6 985.2,206.9 C993.6,207.2 1001.9,207.6 1010.3,207.9 C1018.7,208.2 1029.2,208.8 1035.5,209.0 C1041.8,209.2 1042.8,209.1 1048.0,209.0 C1053.2,208.9 1060.6,208.1 1066.9,208.2 C1073.2,208.3 1080.0,209.2 1085.8,209.7 C1091.6,210.2 1096.3,210.8 1101.5,211.3 C1106.7,211.8 1114.4,212.5 1117.0,212.7" fill="none" stroke="#2196f3" stroke-width="2" stroke-linejoin="round" stroke-linecap="butt"/>
<path d="M258.0,465.0 C258.9,464.7 255.6,465.8 263.1,463.0 C270.6,460.2 289.7,453.6 303.2,448.5 C316.7,443.4 333.2,436.6 344.1,432.4 C355.0,428.1 360.9,426.0 368.5,423.0 C376.1,420.0 384.8,416.1 390.0,414.2 C395.2,412.3 395.2,413.5 400.0,411.6 C404.8,409.7 412.6,405.8 418.9,402.9 C425.2,400.0 431.6,397.1 437.9,394.4 C444.2,391.6 450.5,389.0 456.8,386.4 C463.1,383.8 469.5,381.3 475.8,378.8 C482.1,376.3 488.4,373.8 494.7,371.3 C501.0,368.8 509.4,365.5 513.6,363.7 C517.8,361.9 515.0,362.7 520.0,360.5 C525.0,358.3 535.8,353.4 543.7,350.5 C551.6,347.6 559.5,345.0 567.4,342.8 C575.3,340.6 583.1,338.9 591.0,337.1 C598.9,335.3 606.8,333.7 614.7,331.9 C622.6,330.1 630.5,327.9 638.4,326.4 C646.3,324.9 654.2,324.5 662.1,322.9 C670.0,321.3 677.9,319.0 685.8,317.0 C693.7,315.0 701.5,313.0 709.4,311.0 C717.3,309.0 725.2,307.0 733.1,305.1 C741.0,303.2 748.9,301.5 756.8,299.7 C764.7,297.9 773.0,296.2 780.5,294.5 C788.0,292.8 794.8,291.0 802.0,289.7 C809.2,288.4 816.7,287.2 824.0,286.5 C831.3,285.8 838.7,285.8 846.0,285.4 C853.3,285.0 860.7,284.7 868.0,284.2 C875.3,283.7 884.8,282.6 890.0,282.3 C895.2,282.0 895.3,282.0 899.5,282.3 C903.7,282.6 910.0,283.4 915.2,283.9 C920.4,284.4 925.6,285.0 930.9,285.4 C936.1,285.8 941.0,286.1 946.7,286.5 C952.4,286.9 957.9,287.5 965.2,287.9 C972.5,288.3 981.9,288.9 990.3,288.7 C998.7,288.5 1007.1,287.9 1015.5,286.8 C1023.9,285.7 1032.2,283.6 1040.6,282.1 C1049.0,280.6 1057.4,279.2 1065.8,277.9 C1074.2,276.6 1082.4,275.6 1090.9,274.2 C1099.4,272.8 1112.7,270.1 1117.0,269.3" fill="none" stroke="#d32f2f" stroke-width="2" stroke-linejoin="round" stroke-linecap="butt"/>
<path d="M9.1,297.9 C10.1,298.3 12.8,299.2 14.9,300.4 C17.1,301.6 19.2,303.7 22.0,305.1 C24.8,306.5 27.7,307.4 31.4,308.9 C35.1,310.4 39.3,312.3 44.0,314.1 C48.7,315.9 55.5,318.0 59.7,319.6 C63.9,321.2 66.3,322.3 69.2,324.0 C72.1,325.7 73.9,327.1 77.0,329.8 C80.1,332.5 84.1,336.5 88.0,340.3 C91.9,344.1 96.9,349.1 100.6,352.9 C104.3,356.6 107.6,360.4 110.0,362.8 C112.4,365.2 113.2,365.8 114.8,367.2 C116.4,368.6 116.9,369.1 119.5,371.3 C122.1,373.6 126.8,377.6 130.5,380.7 C134.2,383.8 138.1,387.4 141.5,390.2 C144.9,392.9 147.2,394.7 150.9,397.2 C154.6,399.7 159.6,402.6 163.5,405.1 C167.4,407.6 170.8,410.3 174.5,412.2 C178.2,414.1 182.3,415.8 185.5,416.6 C188.7,417.4 191.1,417.1 193.4,416.9 C195.7,416.7 196.8,416.3 199.4,415.5 C202.0,414.7 205.8,412.8 208.9,412.0 C212.1,411.2 215.2,410.9 218.3,410.8 C221.4,410.7 224.5,411.0 227.7,411.5 C230.8,412.0 233.5,413.0 237.2,413.9 C240.9,414.8 245.5,415.8 249.7,416.7 C253.9,417.6 258.1,418.7 262.3,419.4 C266.5,420.1 271.2,420.8 274.9,421.1 C278.6,421.4 280.6,421.4 284.3,421.0 C288.0,420.6 292.7,419.4 296.9,418.6 C301.1,417.8 304.8,417.5 309.5,416.3 C314.2,415.1 320.0,413.2 325.2,411.5 C330.4,409.8 336.2,407.7 340.9,406.0 C345.6,404.3 349.0,403.4 353.5,401.3 C358.0,399.2 363.5,396.4 367.7,393.5 C371.9,390.6 375.0,387.4 378.7,384.0 C382.4,380.6 385.1,376.7 390.0,373.3 C394.9,369.9 402.9,366.5 408.0,363.9 C413.1,361.3 416.4,360.4 420.6,357.9 C424.8,355.4 429.0,352.0 433.2,349.0 C437.4,346.0 441.6,342.8 445.8,340.0 C450.0,337.2 454.2,334.5 458.4,332.1 C462.6,329.7 466.7,327.8 470.9,325.4 C475.1,323.0 479.3,320.6 483.5,318.0 C487.7,315.4 491.9,312.9 496.1,310.1 C500.3,307.3 504.7,304.4 508.7,301.3 C512.7,298.2 515.0,296.9 520.0,291.6 C525.0,286.3 533.4,275.6 538.9,269.6 C544.4,263.6 548.1,260.3 553.2,255.4 C558.3,250.5 565.2,244.3 569.7,240.0 C574.2,235.7 577.0,232.2 580.0,229.8 C583.0,227.4 585.4,226.8 588.0,225.4 C590.6,224.0 593.2,222.5 595.9,221.3 C598.5,220.1 601.2,219.3 603.9,218.3 C606.5,217.3 609.1,216.4 611.8,215.5 C614.4,214.6 617.1,213.8 619.8,212.7 C622.4,211.6 625.1,209.9 627.7,208.7 C630.4,207.5 633.1,206.4 635.7,205.4 C638.4,204.4 641.5,203.1 643.6,202.4 C645.7,201.7 646.3,201.5 648.4,201.2 C650.5,200.9 654.0,200.7 656.4,200.4 C658.8,200.1 660.9,199.7 662.7,199.2 C664.6,198.7 665.6,198.2 667.5,197.6 C669.4,197.0 672.2,196.3 673.9,195.6 C675.6,194.9 674.8,194.6 677.5,193.5 C680.2,192.4 687.0,190.2 690.1,189.1 C693.2,188.0 693.8,187.6 696.4,187.2 C699.0,186.8 702.7,186.7 705.8,186.4 C708.9,186.1 712.1,185.9 715.2,185.3 C718.4,184.7 721.6,183.5 724.7,182.8 C727.9,182.1 730.4,181.6 734.1,181.2 C737.8,180.8 742.5,180.7 746.7,180.1 C750.9,179.5 755.5,178.3 759.2,177.7 C762.9,177.0 765.2,176.5 768.7,176.2 C772.2,175.9 776.5,175.9 780.0,175.8 C783.5,175.7 786.4,175.1 789.9,175.5 C793.4,175.9 797.0,177.3 800.9,178.3 C804.8,179.3 809.3,180.2 813.5,181.4 C817.7,182.6 821.8,184.0 826.0,185.4 C830.2,186.8 834.4,188.4 838.6,190.1 C842.8,191.8 847.5,194.4 851.2,195.6 C854.9,196.8 856.9,196.6 860.6,197.2 C864.3,197.8 869.5,198.8 873.2,199.1 C876.9,199.3 879.5,199.0 882.6,198.7 C885.8,198.4 889.5,197.2 892.1,197.2 C894.7,197.1 895.3,197.5 898.4,198.4 C901.5,199.3 906.7,201.2 910.9,202.7 C915.1,204.2 919.3,206.0 923.5,207.4 C927.7,208.8 931.9,209.7 936.1,211.3 C940.3,212.9 944.7,215.1 948.7,216.8 C952.7,218.5 956.2,220.0 960.0,221.5 C963.8,223.0 965.8,224.4 971.4,226.0 C977.0,227.6 986.1,229.4 993.5,231.0 C1000.9,232.6 1008.7,234.2 1015.5,235.7 C1022.3,237.1 1029.1,238.6 1034.3,239.7 C1039.5,240.8 1042.7,242.0 1046.9,242.3 C1051.1,242.6 1054.8,241.9 1059.5,241.7 C1064.2,241.4 1070.0,241.1 1075.2,240.8 C1080.4,240.5 1086.2,240.2 1090.9,239.7 C1095.6,239.2 1099.2,238.6 1103.5,237.6 C1107.8,236.6 1114.8,234.2 1117.0,233.5" fill="none" stroke="#fbc02d" stroke-width="2" stroke-linejoin="round" stroke-linecap="butt"/>
<rect x="820" y="364" width="156" height="25" fill="#fff"/>
<g stroke="#000" stroke-width="1.05" fill="none">
<line x1="835.5" y1="220.3" x2="1205" y2="111.4"/>
<line x1="913" y1="363.8" x2="1192" y2="113.2"/>
<line x1="812.5" y1="220.5" x2="983" y2="220.5"/>
<line x1="812.5" y1="354.5" x2="983" y2="354.5"/>
<line x1="898.5" y1="220.5" x2="898.5" y2="354"/>
<path d="M893.5,349 L898.5,354 L903.5,349"/>
<line x1="1082.5" y1="183.5" x2="1153.5" y2="183.5"/>
<line x1="1082.5" y1="317.5" x2="1153.5" y2="317.5"/>
<line x1="1118.5" y1="183.5" x2="1118.5" y2="317"/>
<path d="M1113.5,312 L1118.5,317 L1123.5,312"/>
</g>
</g>
<g shape-rendering="crispEdges" fill="#e0e3eb">
<rect x="1198" y="50" width="4" height="1"/>
<rect x="1198" y="90" width="4" height="1"/>
<rect x="1198" y="132" width="4" height="1"/>
<rect x="1198" y="220" width="4" height="1"/>
<rect x="1198" y="265" width="4" height="1"/>
<rect x="1198" y="314" width="4" height="1"/>
<rect x="1198" y="350" width="4" height="1"/>
<rect x="1198" y="381" width="4" height="1"/>
<rect x="1198" y="414" width="4" height="1"/>
<rect x="1198" y="446" width="4" height="1"/>
<rect x="114" y="464" width="1" height="4"/>
<rect x="213" y="464" width="1" height="4"/>
<rect x="345" y="464" width="1" height="4"/>
<rect x="444" y="464" width="1" height="4"/>
<rect x="576" y="464" width="1" height="4"/>
<rect x="675" y="464" width="1" height="4"/>
<rect x="807" y="464" width="1" height="4"/>
<rect x="906" y="464" width="1" height="4"/>
<rect x="1038" y="464" width="1" height="4"/>
<rect x="1137" y="464" width="1" height="4"/>
</g>
<path d="M1197,168 H1260 a2,2 0 0 1 2,2 V197 a2,2 0 0 1 -2,2 H1197 Z" fill="#ef5350"/>
<rect x="1197" y="176" width="5" height="1" fill="#fff" shape-rendering="crispEdges"/>
<path d="M204.9,25 H215.1 L210,34.8 Z" fill="#ef5350"/>
<path d="M9.5,517 C7.3,517 5.9,515 5.9,512.3 C5.9,509.5 8,507.3 11,507 C11.5,504 13.8,501.7 16.8,501.7 C20,501.7 22.5,503.8 23.2,506.6 C24,506 25.2,505.7 26.3,505.7 C29.5,505.7 32,508.5 32,511.8 C32,515 30.3,517 28.5,517 Z" fill="#2196f3"/>
<path d="M7.1,514.8 L15.9,507.6 L21.8,513.5 L28.8,506.3" stroke="#fff" stroke-width="1.2" fill="none"/>
<circle cx="15.9" cy="507.6" r="1.9" fill="#fff"/><circle cx="21.8" cy="513.5" r="1.9" fill="#fff"/>
</svg>
<div id="txt" style="position:absolute;left:0;top:0;width:1274px;height:528px;will-change:transform">
<span class="t" style="left:5.75px;top:7px;font-size:12.6px;font-weight:bold;transform:scaleX(0.9710);transform-origin:0 0;">CryptoFXStreet</span>
<span class="t" style="left:98.75px;top:7px;font-size:12.6px;letter-spacing:-0.105px;">published</span>
<span class="t" style="left:154.9px;top:7px;font-size:12.6px;letter-spacing:0.166px;">on</span>
<span class="t" style="left:172.0px;top:7px;font-size:12.6px;letter-spacing:0.215px;">TradingView.com,</span>
<span class="t" style="left:277.37px;top:7px;font-size:12.6px;transform:scaleX(1.0985);transform-origin:0 0;">March</span>
<span class="t" style="left:317.72px;top:7px;font-size:12.6px;letter-spacing:0.080px;">31,</span>
<span class="t" style="left:338.96px;top:7px;font-size:12.6px;letter-spacing:-0.105px;">2021</span>
<span class="t" style="left:370.3px;top:7px;font-size:12.6px;letter-spacing:0.093px;">11:29:25</span>
<span class="t" style="left:422.9px;top:7px;font-size:12.6px;transform:scaleX(0.9352);transform-origin:0 0;">UTC</span>
<span class="t" style="left:5.69px;top:24px;font-size:12.6px;font-weight:bold;transform:scaleX(0.8997);transform-origin:0 0;">COINBASE:BTCUSD,</span>
<span class="t" style="left:123.25px;top:24px;font-size:12.6px;font-weight:bold;transform:scaleX(0.9799);transform-origin:0 0;">240</span>
<span class="t" style="left:148.8px;top:24px;font-size:12.6px;letter-spacing:0.034px;">57946.51</span>
<span class="t" style="left:218.56px;top:24px;font-size:12.6px;letter-spacing:-0.027px;">−839.95</span>
<span class="t" style="left:268.38px;top:24px;font-size:12.6px;letter-spacing:-0.231px;">(−1.43%)</span>
<span class="t" style="left:322.0px;top:24px;font-size:12.6px;font-weight:bold;transform:scaleX(0.9577);transform-origin:0 0;">O:</span>
<span class="t" style="left:335.8px;top:24px;font-size:12.6px;color:#ef5350;letter-spacing:0.072px;">58184.04</span>
<span class="t" style="left:393.2px;top:24px;font-size:12.6px;font-weight:bold;transform:scaleX(1.0233);transform-origin:0 0;">H:</span>
<span class="t" style="left:406.73px;top:24px;font-size:12.6px;color:#ef5350;letter-spacing:0.057px;">58280.73</span>
<span class="t" style="left:464.16px;top:24px;font-size:12.6px;font-weight:bold;transform:scaleX(0.8886);transform-origin:0 0;">L:</span>
<span class="t" style="left:474.69px;top:24px;font-size:12.6px;color:#ef5350;letter-spacing:0.068px;">56873.80</span>
<span class="t" style="left:532.31px;top:24px;font-size:12.6px;font-weight:bold;transform:scaleX(0.8523);transform-origin:0 0;">C:</span>
<span class="t" style="left:543.59px;top:24px;font-size:12.6px;color:#ef5350;letter-spacing:0.117px;">57946.51</span>
<span class="t" style="left:15.0px;top:55px;font-size:12.6px;font-weight:bold;transform:scaleX(0.9524);transform-origin:0 0;">Bitcoin</span>
<span class="t" style="left:59.63px;top:55px;font-size:12.6px;font-weight:bold;transform:scaleX(1.4000);transform-origin:0 0;">/</span>
<span class="t" style="left:68.23px;top:55px;font-size:12.6px;font-weight:bold;transform:scaleX(0.9839);transform-origin:0 0;">U.S.</span>
<span class="t" style="left:95.38px;top:55px;font-size:12.6px;font-weight:bold;transform:scaleX(0.9926);transform-origin:0 0;">Dollar,</span>
<span class="t" style="left:136.38px;top:55px;font-size:12.6px;font-weight:bold;transform:scaleX(1.0574);transform-origin:0 0;">4h,</span>
<span class="t" style="left:159.57px;top:55px;font-size:12.6px;font-weight:bold;transform:scaleX(0.8765);transform-origin:0 0;">COINBASE</span>
<span class="t" style="left:14.72px;top:72px;font-size:12.6px;letter-spacing:0.281px;">3MA</span>
<span class="t" style="left:45.05px;top:72px;font-size:12.6px;transform:scaleX(0.9473);transform-origin:0 0;">BB</span>
<span class="t" style="left:14.96px;top:89px;font-size:12.6px;transform:scaleX(1.0608);transform-origin:0 0;">Vol</span>
<span class="t" style="left:33.58px;top:504px;font-size:12.8px;letter-spacing:0.085px;">TradingView</span>
<span class="t" style="left:821.16px;top:370px;font-size:12.2px;transform:scaleX(0.9585);transform-origin:0 0;">−5605.32</span>
<span class="t" style="left:874.61px;top:370px;font-size:12.2px;transform:scaleX(0.9156);transform-origin:0 0;">(−10.02%)</span>
<span class="t" style="left:929.44px;top:370px;font-size:12.2px;transform:scaleX(0.9448);transform-origin:0 0;">−560532</span>
<span class="t" style="left:1041.56px;top:333px;font-size:12.2px;transform:scaleX(0.9477);transform-origin:0 0;">−5771.07</span>
<span class="t" style="left:1094.97px;top:333px;font-size:12.2px;transform:scaleX(0.9033);transform-origin:0 0;">(−10.02%)</span>
<span class="t" style="left:1149.25px;top:333px;font-size:12.2px;transform:scaleX(0.9243);transform-origin:0 0;">−577107</span>
<span class="t" style="left:1206.84px;top:171px;font-size:12.6px;font-weight:bold;color:#fff;transform:scaleX(0.9170);transform-origin:0 0;">57946.51</span>
<span class="t" style="left:1206.69px;top:185px;font-size:12.6px;font-weight:bold;color:#fbd0cf;transform:scaleX(0.9293);transform-origin:0 0;">30:36</span>
<span class="t" style="left:1206.86px;top:44px;font-size:12.6px;transform:scaleX(0.9326);transform-origin:0 0;">64000.00</span>
<span class="t" style="left:1206.86px;top:84px;font-size:12.6px;transform:scaleX(0.9326);transform-origin:0 0;">62000.00</span>
<span class="t" style="left:1206.86px;top:126px;font-size:12.6px;transform:scaleX(0.9326);transform-origin:0 0;">60000.00</span>
<span class="t" style="left:1206.86px;top:214px;font-size:12.6px;transform:scaleX(0.9326);transform-origin:0 0;">56000.00</span>
<span class="t" style="left:1206.86px;top:259px;font-size:12.6px;transform:scaleX(0.9326);transform-origin:0 0;">54000.00</span>
<span class="t" style="left:1206.86px;top:308px;font-size:12.6px;transform:scaleX(0.9326);transform-origin:0 0;">52000.00</span>
<span class="t" style="left:1206.86px;top:344px;font-size:12.6px;transform:scaleX(0.9326);transform-origin:0 0;">50500.00</span>
<span class="t" style="left:1206.86px;top:375px;font-size:12.6px;transform:scaleX(0.9326);transform-origin:0 0;">49300.00</span>
<span class="t" style="left:1206.86px;top:408px;font-size:12.6px;transform:scaleX(0.9326);transform-origin:0 0;">48050.00</span>
<span class="t" style="left:1206.86px;top:440px;font-size:12.6px;transform:scaleX(0.9326);transform-origin:0 0;">46850.00</span>
<span class="t" style="left:103.54px;top:471px;font-size:12.6px;font-weight:bold;transform:scaleX(0.9000);transform-origin:0 0;">Mar</span>
<span class="t" style="left:209.86px;top:471px;font-size:12.6px;transform:scaleX(0.9300);transform-origin:0 0;">4</span>
<span class="t" style="left:341.75px;top:471px;font-size:12.6px;transform:scaleX(0.9300);transform-origin:0 0;">8</span>
<span class="t" style="left:437.66px;top:471px;font-size:12.6px;transform:scaleX(0.9300);transform-origin:0 0;">11</span>
<span class="t" style="left:570.07px;top:471px;font-size:12.6px;transform:scaleX(0.9300);transform-origin:0 0;">15</span>
<span class="t" style="left:669.06px;top:471px;font-size:12.6px;transform:scaleX(0.9300);transform-origin:0 0;">18</span>
<span class="t" style="left:801.47px;top:471px;font-size:12.6px;transform:scaleX(0.9300);transform-origin:0 0;">22</span>
<span class="t" style="left:900.46px;top:471px;font-size:12.6px;transform:scaleX(0.9300);transform-origin:0 0;">25</span>
<span class="t" style="left:1032.48px;top:471px;font-size:12.6px;transform:scaleX(0.9300);transform-origin:0 0;">29</span>
<span class="t" style="left:1127.5px;top:471px;font-size:12.6px;font-weight:bold;transform:scaleX(0.9000);transform-origin:0 0;">Apr</span>
<div style="position:absolute;left:1216px;top:50px;width:30px;height:17px;border:1px solid #e0e3eb;border-radius:4px;background:#fff"></div>
<span class="t" style="left:1220.72px;top:53px;font-size:12.6px;color:#2a2e39;transform:scaleX(0.8223);transform-origin:0 0;">USD</span>
</div>
</body></html>
